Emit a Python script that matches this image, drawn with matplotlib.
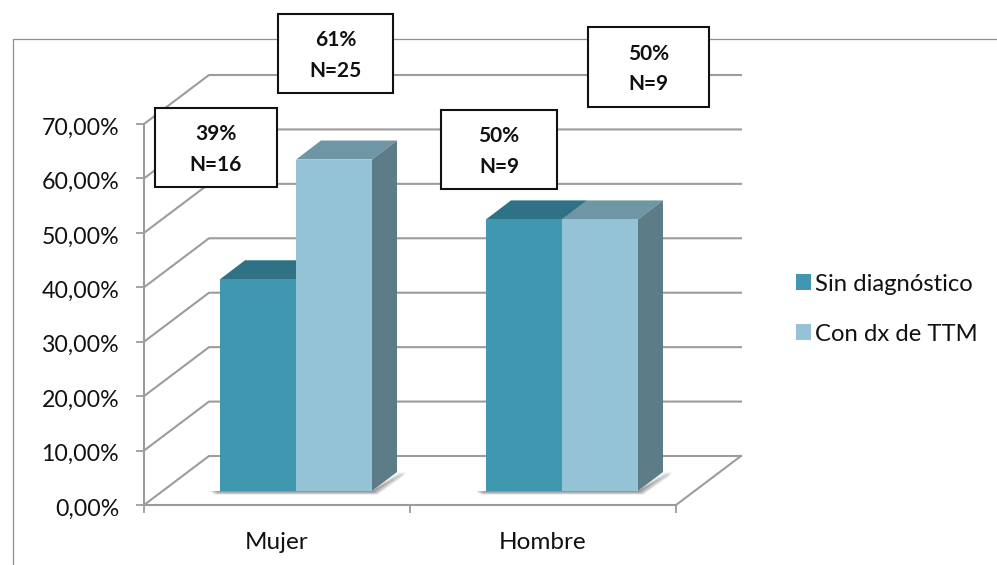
import numpy as np
import matplotlib
matplotlib.use('Agg')
import matplotlib.pyplot as plt
from matplotlib.lines import Line2D
from matplotlib.patches import Patch, Polygon, Rectangle
from matplotlib.transforms import ScaledTranslation

plt.rcParams['font.family'] = ['Lato', 'DejaVu Sans']

# Chart values
categories = ['Mujer', 'Hombre']
sin_diagnostico = [38.9, 49.9]
con_dx = [60.9, 49.9]
series_names = ['Sin diagnóstico', 'Con dx de TTM']
y_levels = [0, 10, 20, 30, 40, 50, 60, 70]
y_labels = ['0,00%', '10,00%', '20,00%', '30,00%', '40,00%', '50,00%', '60,00%', '70,00%']
notes = ['39%\nN=16', '61%\nN=25', '50%\nN=9', '50%\nN=9']

W, H = 997, 565
PX_X = 266.0          # pixels per category
PX_Y = 381.0 / 70     # pixels per percentage point
GRID = '#9c9c9c'


def px(v):
    return v / PX_X


def py(v):
    return v / PX_Y


fig = plt.figure(figsize=(W / 100, H / 100), dpi=100)
fig.patch.set_facecolor('white')
ax = fig.add_axes([144 / W, (H - 505) / H, 532 / W, 381 / H])
ax.patch.set_visible(False)
ax.set_xlim(0, 2)
ax.set_ylim(0, 70)

# outer frame, open on the right and bottom
fig.add_artist(Line2D([13 / W, 13 / W, 1], [0, 1 - 39 / H, 1 - 39 / H],
                      transform=fig.transFigure, color='#8e8e8e', lw=0.9, zorder=-1))

# walls and floor
wall_dx, wall_dy = px(65), py(49)
for lev in y_levels:
    ax.plot([0, wall_dx, 2 + wall_dx], [lev, lev + wall_dy, lev + wall_dy],
            color=GRID, lw=1.5, clip_on=False, zorder=1, solid_joinstyle='miter')
ax.plot([2, 2 + wall_dx], [0, wall_dy], color=GRID, lw=1.5, clip_on=False, zorder=1)


def draw_bar(x0, width, value, front, top, side):
    base = py(14)
    dx, dy = px(25), py(19)
    x1 = x0 + width
    ax.add_patch(Polygon([(x0, base), (x1, base), (x1, base + value), (x0, base + value)],
                         fc=front, ec='none', clip_on=False, zorder=4))
    ax.add_patch(Polygon([(x0, base + value), (x1, base + value),
                          (x1 + dx, base + value + dy), (x0 + dx, base + value + dy)],
                         fc=top, ec='none', clip_on=False, zorder=3))
    ax.add_patch(Polygon([(x1, base), (x1 + dx, base + dy),
                          (x1 + dx, base + value + dy), (x1, base + value)],
                         fc=side, ec='none', clip_on=False, zorder=3))


def draw_shadow(x0, x1):
    # soft shadow on the floor, built from stacked translucent shapes
    base = py(14)
    for grow in np.arange(1, 7):
        pts = [(x0 - px(grow * 1.7), base),
               (x1, base),
               (x1 + px(25 + grow * 1.5), base + py(19)),
               (x1 + px(25 + grow * 1.0), base + py(19 - grow * 0.7)),
               (x1 + px(grow * 0.9), base - py(grow * 0.6)),
               (x0 - px(grow * 0.8), base - py(grow * 0.6))]
        ax.add_patch(Polygon(pts, fc='#444444', ec='none', alpha=0.13,
                             clip_on=False, zorder=2))


bar_w = px(76)
starts = [px(76), px(342)]
for x0, a, b in zip(starts, sin_diagnostico, con_dx):
    draw_shadow(x0, x0 + 2 * bar_w)
    draw_bar(x0, bar_w, a, '#4097B0', '#2F7285', '#2F7285')
    draw_bar(x0 + bar_w, bar_w, b, '#93C3D5', '#6E96A4', '#5C7C88')

# axes
for name in ['top', 'right']:
    ax.spines[name].set_visible(False)
for name in ['left', 'bottom']:
    ax.spines[name].set_color(GRID)
    ax.spines[name].set_linewidth(1.5)
    ax.spines[name].set_zorder(1.5)
ax.set_yticks(y_levels)
ax.set_yticklabels(y_labels)
ax.set_xticks([0, 1, 2])
ax.set_xticklabels([])
ax.set_xticks([0.5, 1.5], minor=True)
ax.set_xticklabels(categories, minor=True)
ax.tick_params(axis='y', which='major', length=6, width=1.3, color=GRID,
               labelsize=16.7, labelcolor='#111111', pad=12)
ax.tick_params(axis='x', which='major', length=6, width=1.3, color=GRID)
ax.tick_params(axis='x', which='minor', length=0, labelsize=17.5, labelcolor='#111111', pad=19.5)

# nudge the y labels down a little
nudge = ScaledTranslation(0, -2 / 100, fig.dpi_scale_trans)
for label in ax.get_yticklabels():
    label.set_transform(label.get_transform() + nudge)

handles = [Patch(fc='#4097B0', ec='none'), Patch(fc='#93C3D5', ec='none')]
fig.legend(handles, series_names, loc='upper left', bbox_to_anchor=(786 / W, 1 - 264 / H),
           frameon=False, fontsize=17.2, handlelength=0.63, handleheight=0.63,
           handletextpad=0.2, labelspacing=1.22, labelcolor='#111111',
           borderpad=0.4, borderaxespad=0)

# annotation boxes
boxes = [(155, 108, 122, 79), (278, 14, 115, 79), (441, 110, 116, 79), (588, 27, 121, 80)]
for (bx, by, bw, bh), note in zip(boxes, notes):
    fig.add_artist(Rectangle((bx / W, 1 - (by + bh) / H), bw / W, bh / H,
                             transform=fig.transFigure, fc='white', ec='#111111',
                             lw=1.5, zorder=5))
    fig.text((bx + bw / 2) / W, 1 - (by + bh / 2 + 2) / H, note, ha='center', va='center',
             fontsize=15, fontweight='bold', color='#111111', linespacing=1.65, zorder=6)

fig.savefig('out.png', dpi=100)
